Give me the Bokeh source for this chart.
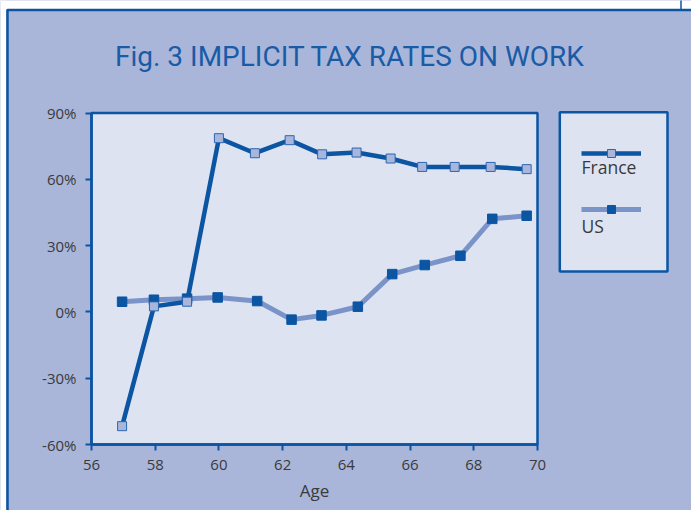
from bokeh.plotting import figure
from bokeh.models import (Range1d, FixedTicker, Label, Legend, LegendItem, BoxAnnotation,
                          LinearAxis)
from bokeh.core.properties import value
from bokeh.embed import file_html
from bokeh.resources import INLINE

# ---- data ----
title_text = "Fig. 3  IMPLICIT TAX RATES ON WORK"
x_label = "Age"
series_names = ["France", "US"]
france_age = [56.96, 57.96, 59.0, 60.0, 61.13, 62.22, 63.24, 64.32, 65.39, 66.38, 67.40, 68.53, 69.66]
france_rate = [-51.7, 2.5, 4.6, 78.6, 71.8, 77.7, 71.3, 72.1, 69.4, 65.6, 65.6, 65.6, 64.6]
us_age = [56.96, 57.96, 59.0, 59.96, 61.2, 62.28, 63.22, 64.36, 65.44, 66.46, 67.58, 68.58, 69.66]
us_rate = [4.6, 5.5, 6.0, 6.55, 4.9, -3.5, -1.6, 2.35, 17.1, 21.2, 25.4, 42.1, 43.5]
x_ticks = [56, 58, 60, 62, 64, 66, 68, 70]
y_ticks = [-60, -30, 0, 30, 60, 90]
y_tick_labels = ["-60%", "-30%", "0%", "30%", "60%", "90%"]

# ---- style / layout ----
DARK = "#0B55A3"
US_LINE = "#7A93C8"
FR_MARK = "#A9B6DC"
PANEL = "#A9B6DA"
INNER = "#DDE3F1"
TEXT = "#3A3A3A"
FONT = "Open Sans"

W, H = 691, 510
PL, PR, PT, PB = 91, 537, 112.5, 444      # plot-area pixel edges
xa, xb = x_ticks[0], x_ticks[-1]
ya, yb = y_ticks[0], y_ticks[-1]
kx = (PR - PL) / (xb - xa)
ky = (PB - PT) / (yb - ya)


def px2x(px):
    return xa + (px - PL) / kx


def py2y(py):
    return ya + (PB - py) / ky


def box(**kw):
    kw.setdefault("fill_alpha", 0)
    kw.setdefault("line_alpha", 1)
    kw.setdefault("level", "underlay")
    return BoxAnnotation(**kw)


p = figure(width=W, height=H, min_border=0,
           x_range=Range1d(px2x(0), px2x(W)), y_range=Range1d(py2y(H), py2y(0)),
           x_axis_location=None, y_axis_location=None,
           output_backend="svg", toolbar_location=None)
p.background_fill_color = PANEL
p.border_fill_color = PANEL
p.outline_line_color = None
p.grid.visible = False

# page decoration: white margins and panel border
p.add_layout(box(bottom=py2y(8.5), fill_color="white", fill_alpha=1, line_alpha=0))
p.add_layout(box(right=px2x(5.5), fill_color="white", fill_alpha=1, line_alpha=0))
p.add_layout(box(left=px2x(7), top=py2y(9.5), right=px2x(W + 20), bottom=py2y(H + 20),
                 line_color=DARK, line_width=2.5))
p.add_layout(box(left=px2x(680.5), top=py2y(-20), right=px2x(W + 20), bottom=py2y(9.5),
                 line_color=DARK, line_width=1.5))

# plot area
p.add_layout(box(left=xa, right=xb, bottom=ya, top=yb, fill_color=INNER, fill_alpha=1,
                 line_color=DARK, line_width=2.5))

xaxis = LinearAxis(fixed_location=ya, bounds=(xa, xb), ticker=FixedTicker(ticks=x_ticks))
yaxis = LinearAxis(fixed_location=xa, bounds=(ya, yb), ticker=FixedTicker(ticks=y_ticks))
for ax in (xaxis, yaxis):
    ax.axis_line_color = DARK
    ax.axis_line_width = 2.5
    ax.major_tick_line_color = DARK
    ax.major_tick_line_width = 2
    ax.major_tick_out = 6
    ax.major_tick_in = 0
    ax.minor_tick_line_color = None
    ax.major_label_text_font = FONT
    ax.major_label_text_font_size = "15px"
    ax.major_label_text_color = TEXT
yaxis.major_label_overrides = {t: l for t, l in zip(y_ticks, y_tick_labels)}
yaxis.major_label_standoff = 9
xaxis.major_label_standoff = 9
xaxis.axis_label = x_label
xaxis.axis_label_text_font = FONT
xaxis.axis_label_text_font_size = "17px"
xaxis.axis_label_text_font_style = "normal"
xaxis.axis_label_text_color = TEXT
xaxis.axis_label_standoff = 6
p.add_layout(xaxis, "below")
p.add_layout(yaxis, "left")

us_line = p.line(us_age, us_rate, line_color=US_LINE, line_width=5)
us_pts = p.scatter(us_age, us_rate, marker="square", size=9.5, fill_color=DARK, line_color=DARK, line_width=1)
fr_line = p.line(france_age, france_rate, line_color=DARK, line_width=4.5)
fr_pts = p.scatter(france_age, france_rate, marker="square", size=9, fill_color=FR_MARK,
                   line_color="#2C66B0", line_width=1)

# title
p.add_layout(Label(x=353, y=H - 55.5, x_units="screen", y_units="screen", text=title_text,
                   text_align="center", text_baseline="alphabetic", text_font="Roboto",
                   text_font_size="28px", text_color="#1A5BA6"))

# legend box
p.add_layout(box(left=px2x(559.3), right=px2x(667), top=py2y(111.7), bottom=py2y(271),
                 fill_color=INNER, fill_alpha=1, line_color=DARK, line_width=2.5))
legend = Legend(items=[LegendItem(label=value(" "), renderers=[fr_line, fr_pts]),
                       LegendItem(label=value(" "), renderers=[us_line, us_pts])],
                location=(580.7, H - 218.7), orientation="vertical", padding=0, spacing=36,
                glyph_width=60, glyph_height=20, label_height=20, label_standoff=0,
                border_line_alpha=0, background_fill_alpha=0, margin=0,
                label_text_font_size="1px")
p.add_layout(legend)
p.add_layout(Label(x=581, y=H - 166, x_units="screen", y_units="screen", text=series_names[0],
                   text_align="left", text_baseline="alphabetic", text_font=FONT,
                   text_font_size="17.5px", text_color=TEXT))
p.add_layout(Label(x=581, y=H - 225.5, x_units="screen", y_units="screen", text=series_names[1],
                   text_align="left", text_baseline="alphabetic", text_font=FONT,
                   text_font_size="17.5px", text_color=TEXT))

open("out.html", "w").write(file_html(p, INLINE))
